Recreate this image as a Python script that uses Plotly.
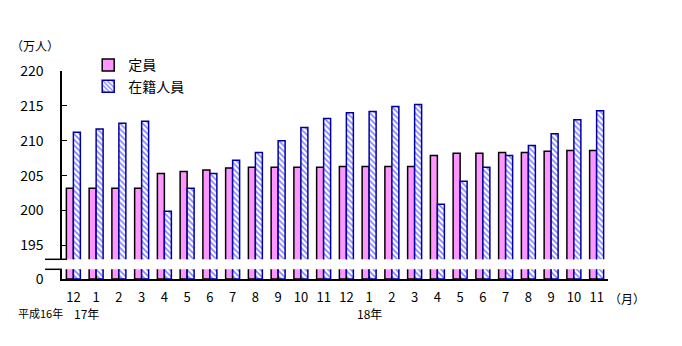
import plotly.graph_objects as go

months = ["12", "1", "2", "3", "4", "5", "6", "7", "8", "9", "10", "11",
          "12", "1", "2", "3", "4", "5", "6", "7", "8", "9", "10", "11"]
teiin = [203.2, 203.2, 203.2, 203.2, 205.3, 205.6, 205.8, 206.1, 206.2, 206.2, 206.2, 206.2,
         206.3, 206.3, 206.3, 206.3, 207.9, 208.2, 208.2, 208.3, 208.3, 208.5, 208.6, 208.6]
zaiseki = [211.2, 211.7, 212.5, 212.8, 199.9, 203.2, 205.3, 207.2, 208.3, 210.0, 211.9, 213.2,
           214.0, 214.2, 214.9, 215.2, 200.9, 204.2, 206.2, 207.9, 209.3, 211.0, 213.0, 214.3]
xpos = list(range(len(months)))

FONT = "Noto Sans CJK JP"
W, H = 682, 346
L, R, T, B = 62, 74, 71, 67
plot_h = H - T - B
bot_top = (279 - 269.3) / plot_h
top_bot = (279 - 259.3) / plot_h

pat_t = dict(shape=".", fgcolor="#FF00FF", bgcolor="white", size=2, solidity=0.8)
pat_z = dict(shape="\\", fgcolor="#0000FF", bgcolor="white", size=4, solidity=0.4)
line_t = dict(color="black", width=1.5)
line_z = dict(color="#0000A0", width=1.5)

fig = go.Figure()
fig.add_trace(go.Bar(x=xpos, y=teiin, name="定員", xaxis="x", yaxis="y",
                     marker=dict(color="white", pattern=pat_t, line=line_t), offsetgroup="a"))
fig.add_trace(go.Bar(x=xpos, y=zaiseki, name="在籍人員", xaxis="x", yaxis="y",
                     marker=dict(color="white", pattern=pat_z, line=line_z), offsetgroup="b"))
fig.add_trace(go.Bar(x=xpos, y=teiin, name="定員", xaxis="x", yaxis="y2", showlegend=False,
                     marker=dict(color="white", pattern=pat_t, line=line_t), offsetgroup="a"))
fig.add_trace(go.Bar(x=xpos, y=zaiseki, name="在籍人員", xaxis="x", yaxis="y2", showlegend=False,
                     marker=dict(color="white", pattern=pat_z, line=line_z), offsetgroup="b"))

fig.update_layout(
    width=W, height=H,
    margin=dict(l=L, r=R, t=T, b=B, pad=0),
    paper_bgcolor="white", plot_bgcolor="white",
    barmode="group", bargap=0.385, bargroupgap=0,
    font=dict(family=FONT, size=13, color="black"),
    xaxis=dict(anchor="y2", range=[-0.5, len(months) - 0.5], tickmode="array",
               tickvals=xpos, ticktext=months, showline=True, linecolor="black", linewidth=2,
               ticks="inside", tickson="boundaries", ticklen=3, tickcolor="black",
               showgrid=False, zeroline=False, ticklabelstandoff=5,
               tickfont=dict(family=FONT, size=13)),
    yaxis=dict(domain=[top_bot, 1], range=[193, 220], tickvals=[195, 200, 205, 210, 215, 220],
               showline=True, linecolor="black", linewidth=1.5, ticks="inside", ticklen=5,
               tickcolor="black", showgrid=False, zeroline=False, ticklabelstandoff=14,
               tickfont=dict(family=FONT, size=14), anchor="x"),
    yaxis2=dict(domain=[0, bot_top], range=[0, 1], tickvals=[0],
                showline=True, linecolor="black", linewidth=1.5, ticks="", showgrid=False,
                zeroline=False, ticklabelstandoff=14, tickfont=dict(family=FONT, size=14),
                anchor="x"),
    legend=dict(x=0.048, y=1.104, xanchor="left", yanchor="top", bgcolor="rgba(0,0,0,0)",
                font=dict(family=FONT, size=14), itemwidth=30, tracegroupgap=0),
    showlegend=True,
)

brk = [(top_bot, -0.031, 0.009), (bot_top, -0.031, 0.0)]
for yy, x0, x1 in brk:
    fig.add_shape(type="line", xref="paper", yref="paper", x0=x0, x1=x1, y0=yy, y1=yy,
                  line=dict(color="black", width=1.5))

fig.add_annotation(text="（万人）", xref="paper", yref="paper", x=-0.049, y=1.123,
                   xanchor="center", yanchor="middle",
                   showarrow=False, font=dict(family=FONT, size=12))
fig.add_annotation(text="（月）", xref="paper", yref="paper", x=1.035, y=0, yshift=-19,
                   xanchor="center", yanchor="middle",
                   showarrow=False, font=dict(family=FONT, size=12))
fig.add_annotation(text="平成16年", xref="x", yref="paper", x=0, y=0, xshift=-8, yshift=-34,
                   xanchor="right", yanchor="middle",
                   showarrow=False, font=dict(family=FONT, size=11))
fig.add_annotation(text="17年", xref="x", yref="paper", x=1, y=0, xshift=-24, yshift=-34,
                   xanchor="left", yanchor="middle",
                   showarrow=False, font=dict(family=FONT, size=12))
fig.add_annotation(text="18年", xref="x", yref="paper", x=13, y=0, xshift=0, yshift=-34,
                   xanchor="center", yanchor="middle",
                   showarrow=False, font=dict(family=FONT, size=12))

fig.write_html("out.html")
